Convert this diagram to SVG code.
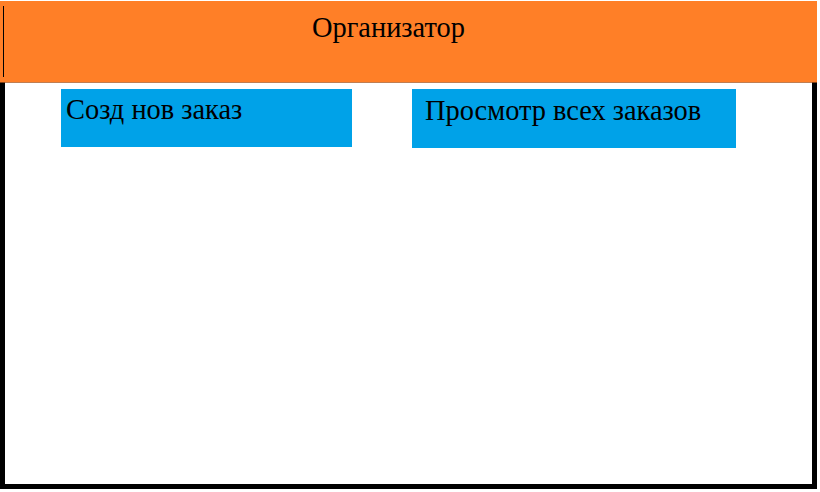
<svg xmlns="http://www.w3.org/2000/svg" width="820" height="492" viewBox="0 0 820 492">
<style>
.t{font-family:"Liberation Serif","Times New Roman",serif;font-size:28.4px;fill:#000}
.box{fill:#00A2E8}
</style>
<rect x="0" y="0" width="820" height="492" fill="#fff"/>
<g id="frame">
<rect x="2.5" y="80" width="812" height="406.5" fill="#fff" stroke="#000" stroke-width="5"/>
</g>
<g id="header">
<rect x="0" y="1" width="817" height="81.5" fill="#FF7F27"/>
<line x1="3.5" y1="6" x2="3.5" y2="77" stroke="#000" stroke-width="1"/>
<text class="t" x="312" y="37">Организатор</text>
</g>
<g id="node-create">
<rect class="box" x="61" y="89" width="291" height="58"/>
<text class="t" x="66" y="119">Созд нов заказ</text>
</g>
<g id="node-view">
<rect class="box" x="412" y="89" width="324" height="59"/>
<text class="t" x="425" y="120">Просмотр всех заказов</text>
</g>
<g id="connectors"></g>
</svg>
